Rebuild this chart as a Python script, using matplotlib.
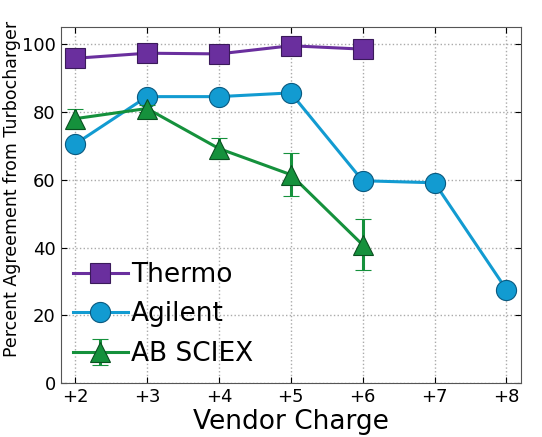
import numpy as np
import matplotlib
matplotlib.use('Agg')
import matplotlib.pyplot as plt

# charges on x axis
thermo_x = [2, 3, 4, 5, 6]
thermo_y = [95.8, 97.3, 97.1, 99.5, 98.5]

agilent_x = [2, 3, 4, 5, 6, 7, 8]
agilent_y = [70.5, 84.5, 84.5, 85.6, 59.7, 59.1, 27.6]

sciex_x = [2, 3, 4, 5, 6]
sciex_y = [78.0, 81.0, 69.2, 61.5, 40.8]
sciex_err = [3.0, 1.0, 3.0, 6.3, 7.5]

tick_labels = ['+2', '+3', '+4', '+5', '+6', '+7', '+8']

purple = '#6a2f9e'
blue = '#129bd1'
green = '#15913c'

fig = plt.figure(figsize=(5.42, 4.37), dpi=100)
ax = fig.add_axes([0.112, 0.123, 0.849, 0.815])

ax.plot(thermo_x, thermo_y, '-s', color=purple, lw=2.2, ms=14,
        mec='#3a1a5a', mew=0.8, label='Thermo', zorder=3)
ax.plot(agilent_x, agilent_y, '-o', color=blue, lw=2.2, ms=14.5,
        mec='#0a5a80', mew=0.8, label='Agilent', zorder=3)
ax.errorbar(sciex_x, sciex_y, yerr=sciex_err, fmt='-^', color=green, lw=2.2,
            ms=14, mec='#0a5020', mew=0.8, elinewidth=2.2, capsize=6,
            capthick=2.2, label='AB SCIEX', zorder=3)

ax.set_xlim(1.8, 8.2)
ax.set_ylim(0, 105)
ax.set_xticks(agilent_x)
ax.set_xticklabels(tick_labels)
ax.set_yticks([0, 20, 40, 60, 80, 100])
ax.tick_params(direction='in', labelsize=13, length=4, top=True, right=True)
ax.grid(True, ls=':', color='#aaaaaa', lw=1)
for s in ax.spines.values():
    s.set_color('#555555')

ax.set_xlabel('Vendor Charge', fontsize=19, labelpad=2)
ax.set_ylabel('Percent Agreement from Turbocharger', fontsize=12.5)
ax.yaxis.set_label_coords(-0.087, 0.545)

leg = ax.legend(loc='lower left', bbox_to_anchor=(0.026, 0.045), frameon=False,
                fontsize=19, handlelength=2.1, handletextpad=0.1,
                borderaxespad=0.0, labelspacing=0.52, borderpad=0.0)

fig.savefig('out.png', dpi=100)
